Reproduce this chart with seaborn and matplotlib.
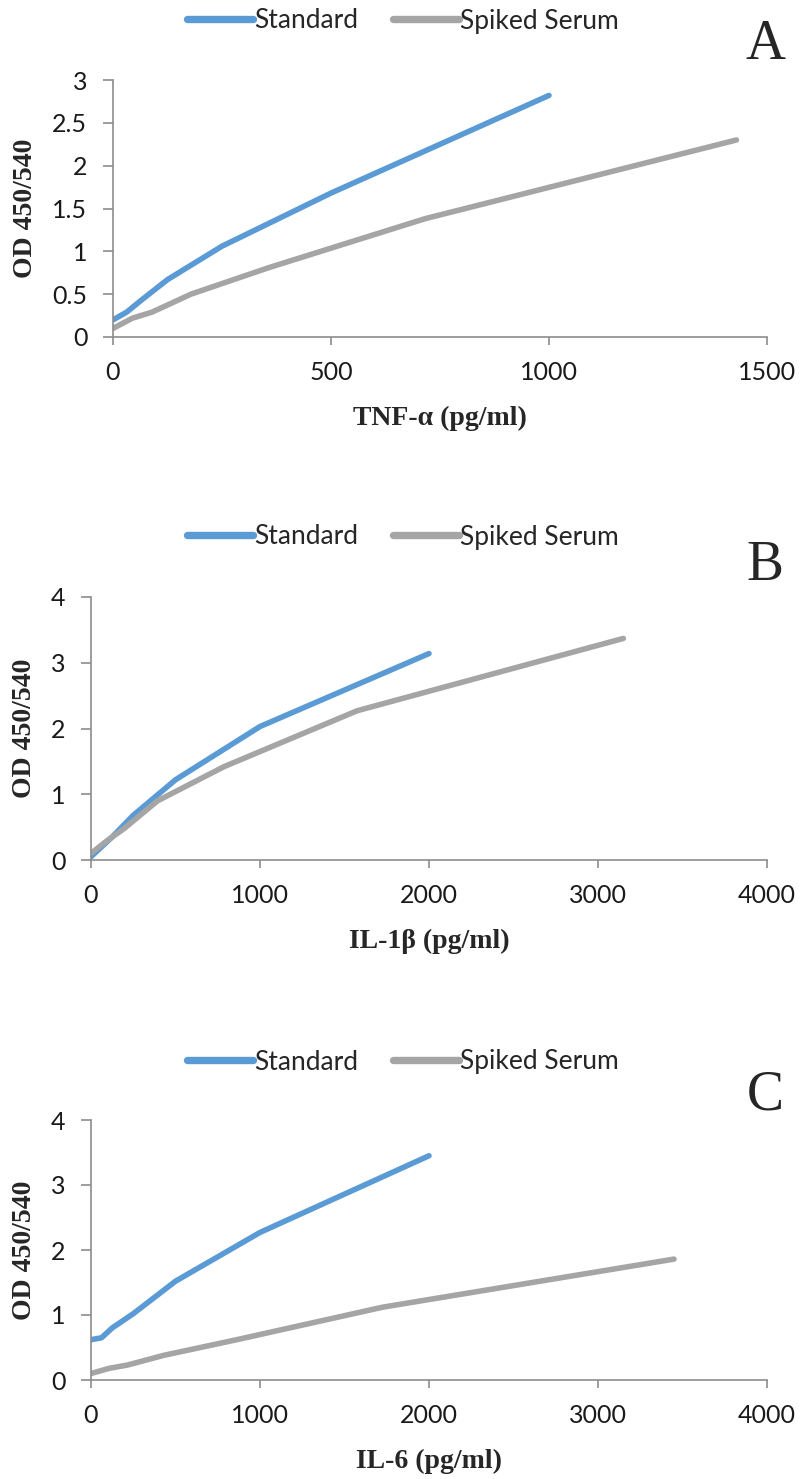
import pandas as pd
import numpy as np
import matplotlib
matplotlib.use('Agg')
import matplotlib.pyplot as plt
import seaborn as sns

sns.set_theme(style='white')
plt.rcParams['font.family'] = ['Lato', 'DejaVu Sans']

# Panel A: TNF-alpha
tnf_std_x = [0, 31.25, 62.5, 125, 250, 500, 1000]
tnf_std_y = [0.20, 0.29, 0.42, 0.67, 1.06, 1.68, 2.82]
tnf_spk_x = [0, 44.7, 89.4, 178.8, 357.5, 715, 1430]
tnf_spk_y = [0.10, 0.22, 0.29, 0.50, 0.81, 1.38, 2.30]

# Panel B: IL-1beta
il1_std_x = [0, 62.5, 125, 250, 500, 1000, 2000]
il1_std_y = [0.05, 0.20, 0.35, 0.68, 1.22, 2.03, 3.14]
il1_spk_x = [0, 98.4, 196.9, 393.8, 787.5, 1575, 3150]
il1_spk_y = [0.10, 0.30, 0.48, 0.90, 1.42, 2.27, 3.37]

# Panel C: IL-6
il6_std_x = [0, 62.5, 125, 250, 500, 1000, 2000]
il6_std_y = [0.62, 0.65, 0.80, 1.02, 1.52, 2.27, 3.45]
il6_spk_x = [0, 107.8, 215.6, 431.3, 862.5, 1725, 3450]
il6_spk_y = [0.10, 0.18, 0.23, 0.38, 0.62, 1.12, 1.86]

series_names = ['Standard', 'Spiked Serum']
colors = {'Standard': '#5B9BD5', 'Spiked Serum': '#A5A5A5'}

panels = [
    dict(letter='A', xlabel='TNF-α (pg/ml)', std=(tnf_std_x, tnf_std_y), spk=(tnf_spk_x, tnf_spk_y),
         xlim=1500, xstep=500, ylim=3, ystep=0.5, ylabels=['0', '0.5', '1', '1.5', '2', '2.5', '3']),
    dict(letter='B', xlabel='IL-1β (pg/ml)', std=(il1_std_x, il1_std_y), spk=(il1_spk_x, il1_spk_y),
         xlim=4000, xstep=1000, ylim=4, ystep=1, ylabels=['0', '1', '2', '3', '4']),
    dict(letter='C', xlabel='IL-6 (pg/ml)', std=(il6_std_x, il6_std_y), spk=(il6_spk_x, il6_spk_y),
         xlim=4000, xstep=1000, ylim=4, ystep=1, ylabels=['0', '1', '2', '3', '4']),
]

W, H = 802, 1479
fig = plt.figure(figsize=(W / 100, H / 100), dpi=100)

# axes boxes in pixels: left, right, top, bottom
boxes = [(113, 767, 80, 337), (91, 767, 597, 860), (91, 767, 1120, 1380)]
legend_y = [21, 537, 1062]
letter_y = [45, 566, 1095]

for p, (l, r, t, b), ly, lt in zip(panels, boxes, legend_y, letter_y):
    ax = fig.add_axes([l / W, 1 - b / H, (r - l) / W, (b - t) / H])
    df = pd.concat([
        pd.DataFrame({'x': p['std'][0], 'y': p['std'][1], 'series': 'Standard'}),
        pd.DataFrame({'x': p['spk'][0], 'y': p['spk'][1], 'series': 'Spiked Serum'}),
    ])
    sns.lineplot(data=df, x='x', y='y', hue='series', hue_order=series_names,
                 palette=colors, linewidth=4.0, sort=False, ax=ax, legend=False,
                 solid_capstyle='round', solid_joinstyle='round')
    ax.set_xlim(0, p['xlim'])
    ax.set_ylim(0, p['ylim'])
    ax.set_xticks(np.arange(0, p['xlim'] + 1, p['xstep']))
    ax.set_yticks(np.arange(0, p['ylim'] + 0.01, p['ystep']))
    ax.set_yticklabels(p['ylabels'])
    for s in ['top', 'right']:
        ax.spines[s].set_visible(False)
    for s in ['left', 'bottom']:
        ax.spines[s].set_color('#8c8c8c')
        ax.spines[s].set_linewidth(1.2)
    ax.tick_params(axis='both', direction='out', width=1.2, color='#8c8c8c',
                   labelsize=18, labelcolor='#1a1a1a')
    ax.tick_params(axis='x', length=5.5, pad=12, bottom=True)
    ax.tick_params(axis='y', length=7.5, pad=11, left=True)
    ax.set_xlabel(p['xlabel'], family='Liberation Serif', fontweight='bold', fontsize=20)
    ax.set_ylabel('OD 450/540', family='Liberation Serif', fontweight='bold', fontsize=20)
    ax.xaxis.label.set_va('center')
    ax.yaxis.label.set_va('center')
    ax.xaxis.set_label_coords(0.5, -81 / (b - t))
    ax.yaxis.set_label_coords(-(l - 25) / (r - l), 0.5)

    handles = [plt.Line2D([], [], color=colors[n], linewidth=5.3) for n in series_names]
    ax.legend(handles, series_names, loc='center', ncol=2, frameon=False, fontsize=19,
              handlelength=2.5, handletextpad=0.05, columnspacing=1.3,
              bbox_to_anchor=(403 / W, 1 - ly / H), bbox_transform=fig.transFigure)
    fig.text(765 / W, 1 - lt / H, p['letter'], family='Liberation Serif', fontsize=40,
             ha='center', va='center')

fig.savefig('out.png', dpi=100)
